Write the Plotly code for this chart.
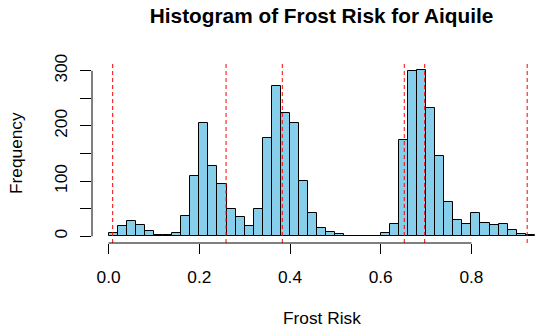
import plotly.graph_objects as go

# ---- data ----
bin_width = 0.02
bin_lefts = [round(i * 0.02, 2) for i in range(47)]  # 0.00 .. 0.92
counts = [6, 19, 28, 21, 10, 3, 3, 6, 37, 109,
          206, 128, 94, 50, 35, 19, 50, 179, 272, 223,
          206, 101, 43, 15, 7, 5, 0, 0, 0, 0,
          6, 23, 174, 299, 302, 233, 146, 62, 30, 22,
          42, 25, 20, 22, 12, 4, 2]
vlines = [0.009, 0.259, 0.383, 0.652, 0.697, 0.923]
x_ticks = [0.0, 0.2, 0.4, 0.6, 0.8]
x_tick_labels = ["0.0", "0.2", "0.4", "0.6", "0.8"]
y_ticks = [0, 50, 100, 150, 200, 250, 300]
y_tick_labels = ["0", "", "100", "", "200", "", "300"]

title = "Histogram of Frost Risk for Aiquile"
xlab = "Frost Risk"
ylab = "Frequency"

FONT = "Liberation Sans, Arial, Helvetica, sans-serif"
W, H = 535, 333
ML, MR, MT, MB = 92, 0, 63, 90

centers = [l + bin_width / 2 for l in bin_lefts]

fig = go.Figure()
fig.add_trace(go.Bar(
    x=centers, y=counts, width=[bin_width] * len(counts),
    marker=dict(color="#87CEEB", line=dict(color="black", width=1)),
    hoverinfo="x+y", showlegend=False,
))

shapes = []
for v in vlines:
    shapes.append(dict(type="line", xref="x", yref="paper", x0=v, x1=v, y0=0, y1=1,
                       line=dict(color="red", width=1, dash="4px,3px"), layer="above"))
# R-style axis lines spanning only the tick range
shapes.append(dict(type="line", xref="x", yref="paper", x0=x_ticks[0], x1=x_ticks[-1],
                   y0=0, y1=0, line=dict(color="black", width=1)))
shapes.append(dict(type="line", xref="paper", yref="y", x0=0, x1=0,
                   y0=y_ticks[0], y1=y_ticks[-1], line=dict(color="black", width=1)))

ymax = max(counts)
xmin = -0.0366
xmax = xmin + (W - ML - MR) / 453.5

fig.update_layout(
    width=W, height=H,
    margin=dict(l=ML, r=MR, t=MT, b=MB),
    paper_bgcolor="white", plot_bgcolor="white",
    bargap=0,
    font=dict(family=FONT, size=17.3, color="black"),
    title=dict(text="<b>" + title + "</b>", x=321.6 / W, xref="container", xanchor="center",
               y=1 - 16 / H, yref="container", yanchor="middle",
               font=dict(family=FONT, size=20.8, color="black")),
    xaxis=dict(range=[xmin, xmax], showgrid=False, zeroline=False, showline=False,
               tickmode="array", tickvals=x_ticks, ticktext=x_tick_labels,
               ticks="outside", ticklen=10, tickwidth=1, tickcolor="black",
               ticklabelstandoff=8,
               tickfont=dict(size=17.3), fixedrange=True),
    yaxis=dict(range=[-0.04 * ymax, 1.04 * ymax], showgrid=False, zeroline=False, showline=False,
               tickmode="array", tickvals=y_ticks, ticktext=y_tick_labels,
               ticks="outside", ticklen=11, tickwidth=1, tickcolor="black",
               ticklabelstandoff=6,
               tickangle=-90, tickfont=dict(size=17.3), fixedrange=True),
    shapes=shapes,
    annotations=[
        dict(text=xlab, xref="paper", yref="paper", x=(321.6 - ML) / (W - ML - MR),
             y=(H - MB - 318) / (H - MT - MB), xanchor="center", yanchor="middle",
             showarrow=False, font=dict(size=17.3)),
        dict(text=ylab, xref="paper", yref="paper", x=(16 - ML) / (W - ML - MR),
             y=0.5, xanchor="center", yanchor="middle", textangle=-90,
             showarrow=False, font=dict(size=17.3)),
    ],
)

fig.write_html("out.html")
